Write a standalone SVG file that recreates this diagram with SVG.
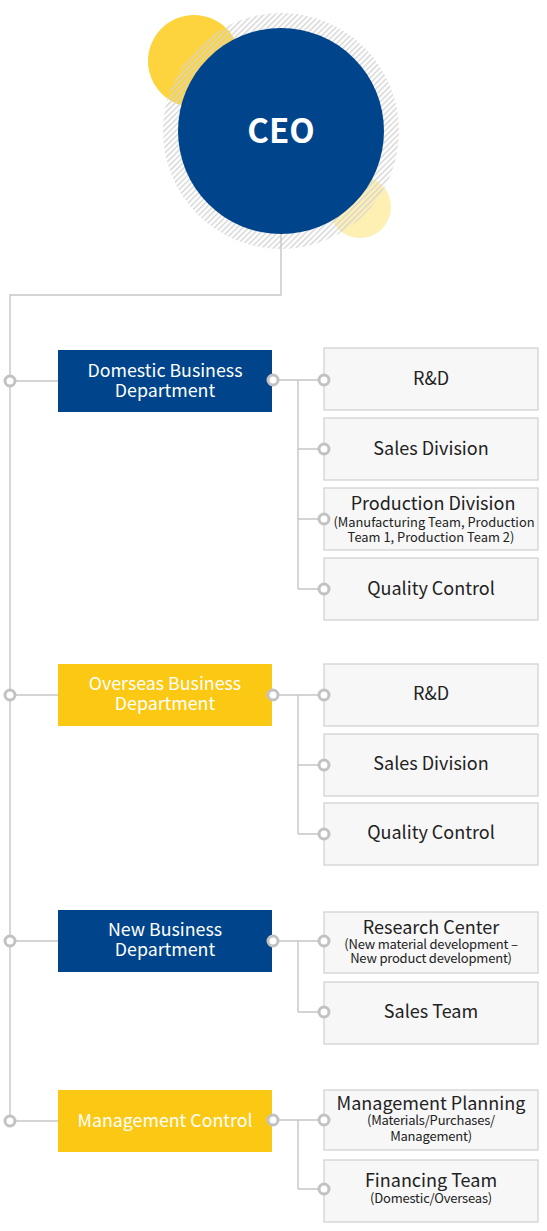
<svg xmlns="http://www.w3.org/2000/svg" width="547" height="1231" viewBox="0 0 547 1231">
<defs>
<pattern id="hatch" patternUnits="userSpaceOnUse" width="4" height="4" patternTransform="rotate(45)">
<rect x="0" y="0" width="1.4" height="4" fill="#d4d4d4"/>
</pattern>
<style>
.ln{fill:none;stroke:#c6c6c6;stroke-width:1.4}
.dot{fill:#fff;stroke:#c2c2c2;stroke-width:3}
.blue{fill:#00458b}
.yel{fill:#fbc913}
.child{fill:#f7f7f7;stroke:#cfcfcf;stroke-width:1.2}
.dt{font-family:"Noto Sans CJK KR","Noto Sans",sans-serif;font-size:17.8px;fill:#fff;text-anchor:middle}
.ct{font-family:"Noto Sans CJK KR","Noto Sans",sans-serif;font-size:18px;fill:#222;text-anchor:middle}
.st{font-family:"Noto Sans CJK KR","Noto Sans",sans-serif;font-size:12.9px;fill:#222;text-anchor:middle}
.ss{font-family:"Noto Sans CJK KR","Noto Sans",sans-serif;font-size:13px;fill:#222;text-anchor:middle;letter-spacing:-0.2px}
</style>
</defs>

<g id="ceo">
<circle cx="194" cy="61" r="46" fill="#fdd43d"/>
<circle cx="360" cy="207" r="31" fill="#feefb3"/>
<circle cx="281" cy="131" r="118" fill="url(#hatch)"/>
<circle cx="281" cy="131" r="103" class="blue"/>
<text x="281" y="143" font-family="'Noto Sans CJK KR','Noto Sans',sans-serif" font-size="33" font-weight="bold" fill="#fff" text-anchor="middle">CEO</text>
</g>

<g id="connectors">
<path class="ln" d="M281 234 V295 H10 V1121"/>
<path class="ln" d="M10 381 H58 M10 695 H58 M10 941 H58 M10 1121 H58"/>
<path class="ln" d="M273 380 H324 M298 380 V589 M298 449 H324 M298 519 H324 M298 589 H324"/>
<path class="ln" d="M273 695 H324 M298 695 V834 M298 765 H324 M298 834 H324"/>
<path class="ln" d="M273 941 H324 M298 941 V1012 M298 1012 H324"/>
<path class="ln" d="M273 1120 H324 M298 1120 V1189 M298 1189 H324"/>
</g>

<g id="domestic">
<rect x="58" y="350" width="214" height="62" class="blue"/>
<text class="dt" x="165" y="377">Domestic Business</text>
<text class="dt" x="165" y="397">Department</text>
</g>
<g id="overseas">
<rect x="58" y="664" width="214" height="62" class="yel"/>
<text class="dt" x="165" y="690">Overseas Business</text>
<text class="dt" x="165" y="710">Department</text>
</g>
<g id="newbiz">
<rect x="58" y="910" width="214" height="62" class="blue"/>
<text class="dt" x="165" y="936">New Business</text>
<text class="dt" x="165" y="956">Department</text>
</g>
<g id="mgmt">
<rect x="58" y="1090" width="214" height="62" class="yel"/>
<text class="dt" x="165" y="1127">Management Control</text>
</g>

<g id="d-rd">
<rect x="324" y="348" width="214" height="62" class="child"/>
<text class="ct" x="431" y="385">R&amp;D</text>
</g>
<g id="d-sales">
<rect x="324" y="418" width="214" height="62" class="child"/>
<text class="ct" x="431" y="455">Sales Division</text>
</g>
<g id="d-prod">
<rect x="324" y="488" width="214" height="62" class="child"/>
<text class="ct" x="433" y="510">Production Division</text>
<text class="st" x="434" y="527">(Manufacturing Team, Production</text>
<text class="st" x="431" y="542">Team 1, Production Team 2)</text>
</g>
<g id="d-qc">
<rect x="324" y="558" width="214" height="62" class="child"/>
<text class="ct" x="431" y="595">Quality Control</text>
</g>

<g id="o-rd">
<rect x="324" y="664" width="214" height="62" class="child"/>
<text class="ct" x="431" y="700">R&amp;D</text>
</g>
<g id="o-sales">
<rect x="324" y="734" width="214" height="62" class="child"/>
<text class="ct" x="431" y="770">Sales Division</text>
</g>
<g id="o-qc">
<rect x="324" y="803" width="214" height="62" class="child"/>
<text class="ct" x="431" y="839">Quality Control</text>
</g>

<g id="n-research">
<rect x="324" y="912" width="214" height="61" class="child"/>
<text class="ct" x="431" y="934">Research Center</text>
<text class="ss" x="431" y="949">(New material development –</text>
<text class="ss" x="431" y="963">New product development)</text>
</g>
<g id="n-sales">
<rect x="324" y="982" width="214" height="62" class="child"/>
<text class="ct" x="431" y="1018">Sales Team</text>
</g>

<g id="m-plan">
<rect x="324" y="1090" width="214" height="60" class="child"/>
<text class="ct" x="431" y="1110">Management Planning</text>
<text class="ss" x="431" y="1125">(Materials/Purchases/</text>
<text class="ss" x="431" y="1141">Management)</text>
</g>
<g id="m-fin">
<rect x="324" y="1160" width="214" height="62" class="child"/>
<text class="ct" x="431" y="1187">Financing Team</text>
<text class="ss" x="431" y="1203">(Domestic/Overseas)</text>
</g>

<g id="dots">
<circle class="dot" cx="10" cy="381" r="5"/>
<circle class="dot" cx="10" cy="695" r="5"/>
<circle class="dot" cx="10" cy="941" r="5"/>
<circle class="dot" cx="10" cy="1121" r="5"/>
<circle class="dot" cx="273" cy="380" r="5"/>
<circle class="dot" cx="273" cy="695" r="5"/>
<circle class="dot" cx="273" cy="941" r="5"/>
<circle class="dot" cx="273" cy="1120" r="5"/>
<circle class="dot" cx="324" cy="380" r="5"/>
<circle class="dot" cx="324" cy="449" r="5"/>
<circle class="dot" cx="324" cy="519" r="5"/>
<circle class="dot" cx="324" cy="589" r="5"/>
<circle class="dot" cx="324" cy="695" r="5"/>
<circle class="dot" cx="324" cy="765" r="5"/>
<circle class="dot" cx="324" cy="834" r="5"/>
<circle class="dot" cx="324" cy="941" r="5"/>
<circle class="dot" cx="324" cy="1012" r="5"/>
<circle class="dot" cx="324" cy="1120" r="5"/>
<circle class="dot" cx="324" cy="1189" r="5"/>
</g>
</svg>
